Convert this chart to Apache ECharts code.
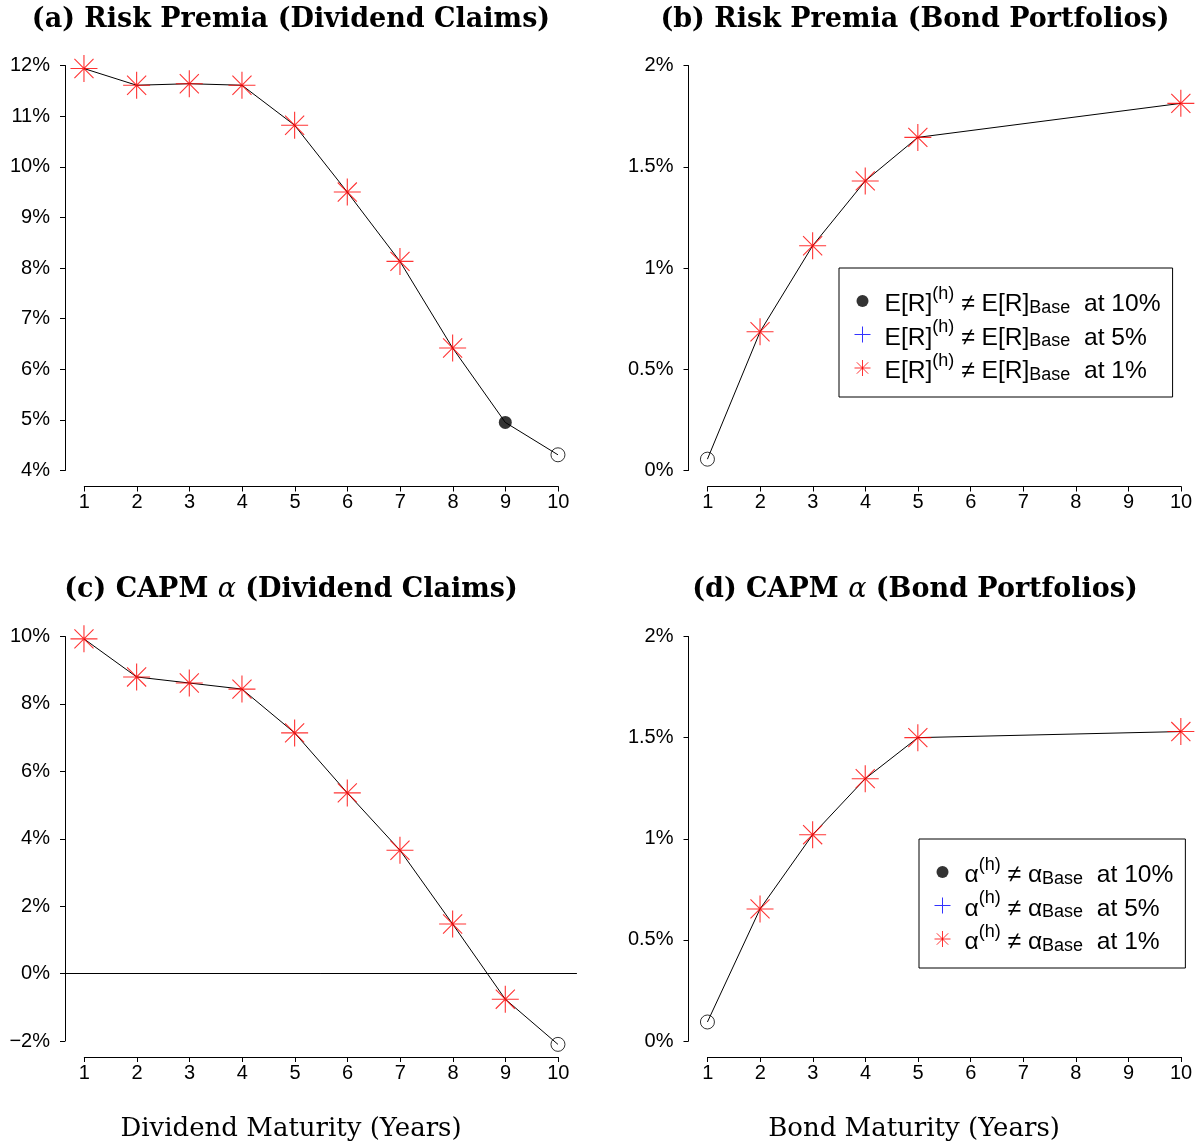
<!DOCTYPE html>
<html><head><meta charset="utf-8">
<script src="https://cdn.jsdelivr.net/npm/echarts@6/dist/echarts.min.js"></script>
<style>html,body{margin:0;padding:0;background:#fff}#c{width:1200px;height:1148px}</style>
</head><body><div id="c"></div>
<script>
// ---------- data ----------
const divMaturities = [1, 2, 3, 4, 5, 6, 7, 8, 9, 10];
const bondMaturities = [1, 2, 3, 4, 5, 10];
const riskPremiaDiv = [11.94, 11.61, 11.64, 11.61, 10.82, 9.50, 8.13, 6.42, 4.95, 4.31];
const sigRiskPremiaDiv = ['1', '1', '1', '1', '1', '1', '1', '1', '10', 'ns'];
const riskPremiaBond = [0.056, 0.685, 1.11, 1.43, 1.645, 1.813];
const sigRiskPremiaBond = ['ns', '1', '1', '1', '1', '1'];
const alphaDiv = [9.93, 8.80, 8.62, 8.44, 7.14, 5.36, 3.66, 1.47, -0.76, -2.10];
const sigAlphaDiv = ['1', '1', '1', '1', '1', '1', '1', '1', '1', 'ns'];
const alphaBond = [0.094, 0.653, 1.02, 1.297, 1.50, 1.53];
const sigAlphaBond = ['ns', '1', '1', '1', '1', '1'];
const xTicks = [1, 2, 3, 4, 5, 6, 7, 8, 9, 10];
const yTicksRPDiv = [4, 5, 6, 7, 8, 9, 10, 11, 12];
const yTicksRPBond = [0, 0.5, 1, 1.5, 2];
const yTicksAlphaDiv = [-2, 0, 2, 4, 6, 8, 10];
const yTicksAlphaBond = [0, 0.5, 1, 1.5, 2];
const titles = ['(a) Risk Premia (Dividend Claims)', '(b) Risk Premia (Bond Portfolios)',
                '(c) CAPM {i|α} (Dividend Claims)', '(d) CAPM {i|α} (Bond Portfolios)'];
const xTitles = ['Dividend Maturity (Years)', 'Bond Maturity (Years)'];

// ---------- styling ----------
const SANS = '"Liberation Sans", Arial, sans-serif';
const SERIF = '"DejaVu Serif", serif';
const starPath = 'path://M-13,0L13,0M0,-13L0,13M-9.2,-9.2L9.2,9.2M-9.2,9.2L9.2,-9.2';
const plusPath = 'path://M-13,0L13,0M0,-13L0,13';
const BLUE = '#0000ff', RED = '#ff0000';
// legend icons: invisible corner points widen the icon box so the text sits further right
const ICON_BOX = 'M-8,-8L-8,-8M17,8L17,8';
const dotIcon = 'path://' + ICON_BOX + 'M-6,0A6,6,0,1,0,6,0A6,6,0,1,0,-6,0Z';
const plusIcon = 'path://' + ICON_BOX + 'M-8,-0.5L8,-0.5L8,0.5L-8,0.5ZM-0.5,-8L0.5,-8L0.5,8L-0.5,8Z';
const starIcon = 'path://' + ICON_BOX + 'M-8,0L8,0M0,-8L0,8M-5.7,-5.7L5.7,5.7M-5.7,5.7L5.7,-5.7';

const markerStyles = {
  ns: {symbol: 'circle', symbolSize: 14, itemStyle: {color: 'none', borderColor: '#000', borderWidth: 1}},
  '10': {symbol: 'circle', symbolSize: 13, itemStyle: {color: '#000', borderWidth: 0}},
  '5': {symbol: plusPath, symbolSize: 26, itemStyle: {color: BLUE, borderColor: BLUE, borderWidth: 1}},
  '1': {symbol: starPath, symbolSize: 27, itemStyle: {color: RED, borderColor: RED, borderWidth: 1.1}}
};

const panels = [
  {id: 'a', x: divMaturities, y: riskPremiaDiv, sig: sigRiskPremiaDiv, ticks: yTicksRPDiv,
   left: 65, xFirst: 84.3, axisW: 474, top: 65.5, h: 405, axisY: 486.5, zero: false},
  {id: 'b', x: bondMaturities, y: riskPremiaBond, sig: sigRiskPremiaBond, ticks: yTicksRPBond,
   left: 688.5, xFirst: 707.7, axisW: 473.4, top: 65.5, h: 405, axisY: 486.5, zero: false},
  {id: 'c', x: divMaturities, y: alphaDiv, sig: sigAlphaDiv, ticks: yTicksAlphaDiv,
   left: 65, xFirst: 84.3, axisW: 474, top: 636.5, h: 404.5, axisY: 1057, zero: true},
  {id: 'd', x: bondMaturities, y: alphaBond, sig: sigAlphaBond, ticks: yTicksAlphaBond,
   left: 688.5, xFirst: 707.7, axisW: 473.4, top: 636.5, h: 404.5, axisY: 1057, zero: false}
];

function pctLabel(v) {
  const r = Math.round(v * 100) / 100;
  return (r < 0 ? '\u2212' + (-r) : String(r)) + '%';
}

const labelStyle = {color: '#000', fontFamily: SANS, fontSize: 20};
const grid = [], xAxis = [], yAxis = [], series = [];

panels.forEach(p => {
  const step = p.axisW / 9;
  const gData = grid.length;
  grid.push({left: p.left, top: p.top, width: step * 9.72, height: p.h});
  xAxis.push({gridIndex: gData, type: 'value', min: 0.64, max: 10.36, show: false});
  yAxis.push({
    gridIndex: gData, type: 'value',
    min: p.ticks[0], max: p.ticks[p.ticks.length - 1], interval: p.ticks[1] - p.ticks[0],
    axisLine: {show: true, onZero: false, lineStyle: {color: '#000', width: 1}},
    axisTick: {show: true, inside: false, length: 5, lineStyle: {color: '#000', width: 1}},
    axisLabel: Object.assign({margin: 15, formatter: pctLabel}, labelStyle),
    splitLine: {show: false}
  });
  const gAxis = grid.length;
  grid.push({left: p.xFirst, top: p.axisY - 1, width: p.axisW, height: 1});
  xAxis.push({
    gridIndex: gAxis, type: 'value', position: 'bottom',
    min: xTicks[0], max: xTicks[xTicks.length - 1], interval: xTicks[1] - xTicks[0],
    axisLine: {show: true, onZero: false, lineStyle: {color: '#000', width: 1}},
    axisTick: {show: true, inside: false, length: 5, lineStyle: {color: '#000', width: 1}},
    axisLabel: Object.assign({margin: 6}, labelStyle),
    splitLine: {show: false}
  });
  yAxis.push({gridIndex: gAxis, type: 'value', show: false, min: 0, max: 1});

  const line = {
    type: 'line', name: p.id + '_line', xAxisIndex: gData, yAxisIndex: gData,
    data: p.x.map((x, k) => [x, p.y[k]]),
    symbol: 'none', showSymbol: false, clip: false, silent: true, z: 2,
    lineStyle: {color: '#000', width: 1}
  };
  if (p.zero) {
    line.markLine = {
      silent: true, symbol: ['none', 'none'], label: {show: false},
      lineStyle: {color: '#000', width: 1, type: 'solid'},
      data: [{yAxis: 0}]
    };
  }
  series.push(line);
  ['ns', '10', '5', '1'].forEach(level => {
    const ms = markerStyles[level];
    series.push({
      type: 'scatter', name: p.id + '_' + level, xAxisIndex: gData, yAxisIndex: gData,
      data: p.x.map((x, k) => [x, p.y[k], p.sig[k]]).filter(d => d[2] === level).map(d => [d[0], d[1]]),
      symbol: ms.symbol, symbolSize: ms.symbolSize, itemStyle: ms.itemStyle,
      clip: false, silent: true, z: 3, emphasis: {disabled: true}
    });
  });
});

// ---------- legends ----------
const legendTexts = {
  b_10: '{h|\u200b}{m|E[R]}{sup|(h)}{m| \u2260 E[R]}{sub|Base}{m|  at 10%}',
  b_5: '{h|\u200b}{m|E[R]}{sup|(h)}{m| \u2260 E[R]}{sub|Base}{m|  at 5%}',
  b_1: '{h|\u200b}{m|E[R]}{sup|(h)}{m| \u2260 E[R]}{sub|Base}{m|  at 1%}',
  d_10: '{h|\u200b}{m|\u03b1}{sup|(h)}{m| \u2260 \u03b1}{sub|Base}{m|  at 10%}',
  d_5: '{h|\u200b}{m|\u03b1}{sup|(h)}{m| \u2260 \u03b1}{sub|Base}{m|  at 5%}',
  d_1: '{h|\u200b}{m|\u03b1}{sup|(h)}{m| \u2260 \u03b1}{sub|Base}{m|  at 1%}'
};
const legendRich = {
  h: {fontSize: 1, lineHeight: 32, fontFamily: SANS},
  m: {fontSize: 24.6, lineHeight: 24, verticalAlign: 'bottom', fontFamily: SANS, color: '#000'},
  sup: {fontSize: 18, lineHeight: 20, verticalAlign: 'top', fontFamily: SANS, color: '#000'},
  sub: {fontSize: 18, lineHeight: 10, verticalAlign: 'bottom', fontFamily: SANS, color: '#000'}
};
function legendItems(id) {
  return [
    {name: id + '_10', icon: dotIcon, itemStyle: {color: '#000', borderWidth: 0}},
    {name: id + '_5', icon: plusIcon, itemStyle: {color: BLUE, borderWidth: 0}},
    {name: id + '_1', icon: starIcon, itemStyle: {color: RED, borderColor: RED, borderWidth: 1}}
  ];
}
function makeLegend(id, left, top) {
  return {
    data: legendItems(id), orient: 'vertical', left: left, top: top,
    padding: [17, 12, 13, 15], itemGap: 1.5, itemWidth: 25, itemHeight: 16,
    borderColor: '#000', borderWidth: 1, selectedMode: false,
    formatter: name => legendTexts[name],
    textStyle: {fontFamily: SANS, fontSize: 24.6, color: '#000', rich: legendRich}
  };
}

// ---------- titles ----------
const titleRich = {
  b: {fontFamily: SERIF, fontWeight: 'bold', fontSize: 27, fill: '#000'},
  i: {fontFamily: SERIF, fontStyle: 'italic', fontSize: 27, fill: '#000'}
};
function richTitle(t) {
  return t.split(/(\{i\|[^}]*\})/).filter(s => s.length).map(s => s.startsWith('{i|') ? s : '{b|' + s + '}').join('');
}
const titlePos = [[291, 20], [915, 20], [291, 590], [915, 590]];
const graphic = titles.map((t, k) => ({
  type: 'text', x: titlePos[k][0], y: titlePos[k][1], silent: true,
  style: {text: richTitle(t), rich: titleRich, align: 'center', verticalAlign: 'middle', fill: '#000'}
}));
const xTitlePos = [[291, 1129], [914, 1129]];
xTitles.forEach((t, k) => graphic.push({
  type: 'text', x: xTitlePos[k][0], y: xTitlePos[k][1], silent: true,
  style: {text: t, font: '26px ' + SERIF, align: 'center', verticalAlign: 'middle', fill: '#000'}
}));

const chart = echarts.init(document.getElementById('c'));
chart.setOption({
  animation: false,
  backgroundColor: '#fff',
  grid: grid, xAxis: xAxis, yAxis: yAxis, series: series,
  legend: [makeLegend('b', 839, 268), makeLegend('d', 919, 839)],
  graphic: graphic
});
</script>
</body></html>
